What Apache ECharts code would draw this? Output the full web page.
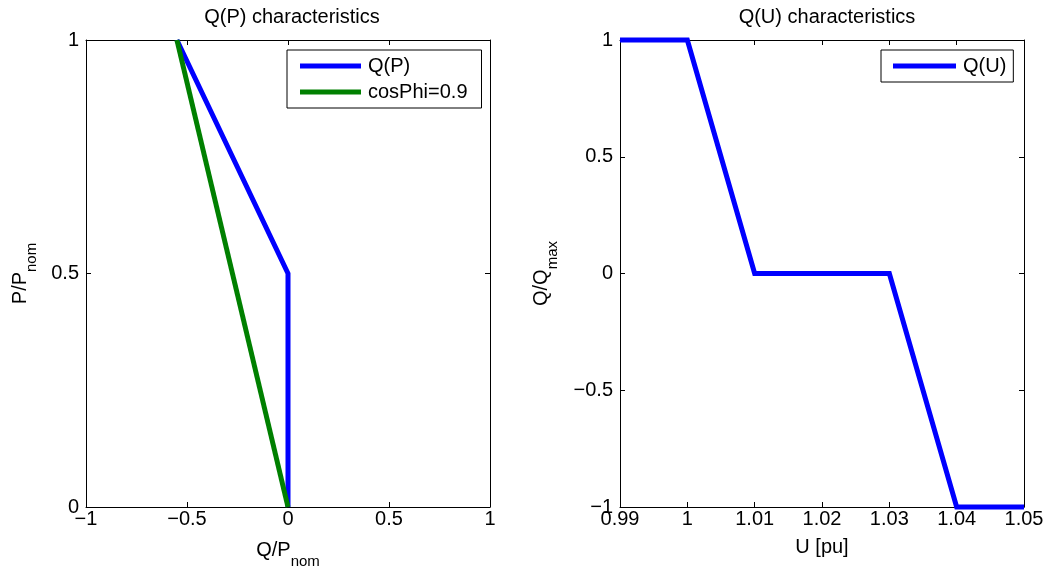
<!DOCTYPE html>
<html>
<head>
<meta charset="utf-8">
<title>Q(P) and Q(U) characteristics</title>
<script src="https://cdn.jsdelivr.net/npm/echarts@6/dist/echarts.min.js"></script>
<style>
  html, body { margin: 0; padding: 0; background: #fff; }
  #chart { width: 1051px; height: 574px; }
</style>
</head>
<body>
<div id="chart"></div>
<script>
// Q(P) characteristic: [Q/Pnom, P/Pnom]
const qpCurve = [[-0.55, 1], [0, 0.5], [0, 0]];
// constant power factor reference line (cosPhi = 0.9)
const cosPhiLine = [[0, 0], [-0.55, 1]];
// Q(U) characteristic: [U in pu, Q/Qmax]
const quCurve = [[0.99, 1], [1.0, 1], [1.01, 0], [1.03, 0], [1.04, -1], [1.05, -1]];

const leftTitle = 'Q(P) characteristics';
const rightTitle = 'Q(U) characteristics';
const seriesNames = { qp: 'Q(P)', cos: 'cosPhi=0.9', qu: 'Q(U)' };

const FONT = 'Liberation Sans, Arial, sans-serif';
const FS = 20;
const BLUE = '#0000ff';
const GREEN = '#008000';

const minus = v => String(v).replace('-', '\u2212');

// main text plus a lowered subscript (padding pushes the subscript down)
const subRich = {
  m: { fontSize: FS, fontFamily: FONT, color: '#000', lineHeight: 22 },
  s: { fontSize: 15, fontFamily: FONT, color: '#000', lineHeight: 16, padding: [24, 0, 0, 0] }
};

function valueAxis(gridIndex, pos, min, max, interval, shown, extra) {
  return Object.assign({
    type: 'value',
    gridIndex: gridIndex,
    position: pos,
    min: min,
    max: max,
    interval: interval,
    nameMoveOverlap: false,
    axisLine: { show: true, onZero: false, lineStyle: { color: '#000', width: 1 } },
    axisTick: { show: true, inside: true, length: 5, lineStyle: { color: '#000', width: 1 } },
    splitLine: { show: false },
    axisLabel: shown ? {
      show: true, fontSize: FS, fontFamily: FONT, color: '#000', margin: 2,
      formatter: v => minus(v)
    } : { show: false }
  }, extra || {});
}

const chart = echarts.init(document.getElementById('chart'), null, { renderer: 'canvas' });

chart.setOption({
  backgroundColor: '#fff',
  animation: false,
  title: [
    { text: leftTitle, left: 287, top: 2, textAlign: 'center',
      textStyle: { fontSize: FS, fontWeight: 'normal', fontFamily: FONT, color: '#000' } },
    { text: rightTitle, left: 822, top: 2, textAlign: 'center',
      textStyle: { fontSize: FS, fontWeight: 'normal', fontFamily: FONT, color: '#000' } }
  ],
  grid: [
    { left: 86, right: 561, top: 40, bottom: 67, outerBoundsMode: 'none', containLabel: false },
    { left: 620, right: 27, top: 40, bottom: 67, outerBoundsMode: 'none', containLabel: false }
  ],
  legend: [
    {
      data: [seriesNames.qp, seriesNames.cos],
      orient: 'vertical', left: 287, top: 50,
      padding: [6, 14, 6, 13], itemGap: 6,
      icon: 'rect', itemWidth: 61, itemHeight: 5,
      borderColor: '#000', borderWidth: 1, borderRadius: 0, backgroundColor: '#fff',
      textStyle: { fontSize: FS, fontFamily: FONT, color: '#000', lineHeight: 20, padding: [0, 0, 0, 2] },
      selectedMode: false
    },
    {
      data: [seriesNames.qu],
      orient: 'vertical', left: 881, top: 50,
      padding: [6, 7, 6, 12], itemGap: 6,
      icon: 'rect', itemWidth: 63, itemHeight: 5,
      borderColor: '#000', borderWidth: 1, borderRadius: 0, backgroundColor: '#fff',
      textStyle: { fontSize: FS, fontFamily: FONT, color: '#000', lineHeight: 20, padding: [0, 0, 0, 2] },
      selectedMode: false
    }
  ],
  xAxis: [
    valueAxis(0, 'bottom', -1, 1, 0.5, true, {
      name: '{m|Q/P}{s|nom}', nameLocation: 'middle', nameGap: 32,
      nameTextStyle: { rich: subRich }
    }),
    valueAxis(0, 'top', -1, 1, 0.5, false),
    valueAxis(1, 'bottom', 0.99, 1.05, 0.01, true, {
      name: 'U [pu]', nameLocation: 'middle', nameGap: 30,
      nameTextStyle: { fontSize: FS, fontFamily: FONT, color: '#000' },
      axisLabel: { show: true, fontSize: FS, fontFamily: FONT, color: '#000', margin: 2,
        formatter: v => String(Math.round(v * 100) / 100) }
    }),
    valueAxis(1, 'top', 0.99, 1.05, 0.01, false)
  ],
  yAxis: [
    valueAxis(0, 'left', 0, 1, 0.5, true, {
      name: '{m|P/P}{s|nom}', nameLocation: 'middle', nameGap: 55, nameRotate: 90,
      nameTextStyle: { rich: subRich },
      axisLabel: { show: true, fontSize: FS, fontFamily: FONT, color: '#000', margin: 7, formatter: v => minus(v) }
    }),
    valueAxis(0, 'right', 0, 1, 0.5, false),
    valueAxis(1, 'left', -1, 1, 0.5, true, {
      name: '{m|Q/Q}{s|max}', nameLocation: 'middle', nameGap: 68, nameRotate: 90,
      nameTextStyle: { rich: subRich },
      axisLabel: { show: true, fontSize: FS, fontFamily: FONT, color: '#000', margin: 7, formatter: v => minus(v) }
    }),
    valueAxis(1, 'right', -1, 1, 0.5, false)
  ],
  series: [
    {
      name: seriesNames.qp, type: 'line', xAxisIndex: 0, yAxisIndex: 0,
      data: qpCurve, showSymbol: false, clip: false, silent: true,
      itemStyle: { color: BLUE },
      lineStyle: { color: BLUE, width: 5, join: 'miter', cap: 'butt' }
    },
    {
      name: seriesNames.cos, type: 'line', xAxisIndex: 0, yAxisIndex: 0,
      data: cosPhiLine, showSymbol: false, clip: false, silent: true,
      itemStyle: { color: GREEN },
      lineStyle: { color: GREEN, width: 5, join: 'miter', cap: 'butt' }
    },
    {
      name: seriesNames.qu, type: 'line', xAxisIndex: 2, yAxisIndex: 2,
      data: quCurve, showSymbol: false, clip: false, silent: true,
      itemStyle: { color: BLUE },
      lineStyle: { color: BLUE, width: 5, join: 'miter', cap: 'butt' }
    }
  ]
});
</script>
</body>
</html>
